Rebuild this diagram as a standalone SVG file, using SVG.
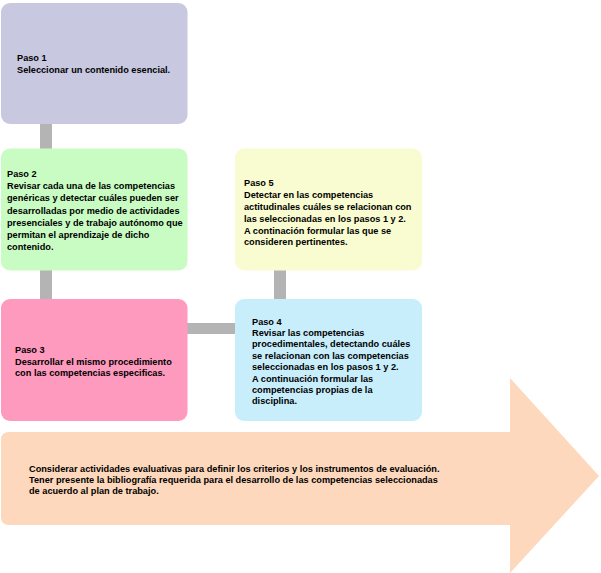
<svg xmlns="http://www.w3.org/2000/svg" width="601" height="573" viewBox="0 0 601 573">
<style>
text{font-family:"Liberation Sans",Arial,sans-serif;font-size:9.2px;font-weight:bold;fill:#000}
.c{fill:#b4b4b4}
</style>
<rect width="601" height="573" fill="#fff"/>
<g id="connectors">
<rect class="c" x="40" y="120" width="12" height="32"/>
<rect class="c" x="40" y="266" width="12" height="37"/>
<rect class="c" x="183" y="323" width="56" height="11"/>
<rect class="c" x="274" y="266" width="12" height="37"/>
</g>
<g id="arrow">
<path d="M9,432 H510 V378 L599,476 L510,573 V525 H9 Q1,525 1,517 V440 Q1,432 9,432 Z" fill="#fdd8bc"/>
<text x="29" y="472">Considerar actividades evaluativas para definir los criterios y los instrumentos de evaluación.</text>
<text x="29" y="483">Tener presente la bibliografía requerida para el desarrollo de las competencias seleccionadas</text>
<text x="29" y="494">de acuerdo al plan de trabajo.</text>
</g>
<g id="paso1">
<rect x="1" y="3" width="186.5" height="121" rx="9" fill="#c8c8e0"/>
<text x="17" y="61">Paso 1</text>
<text x="17" y="72.5">Seleccionar un contenido esencial.</text>
</g>
<g id="paso2">
<rect x="1" y="148.5" width="186.5" height="122" rx="9" fill="#c8fcc2"/>
<text x="7" y="177">Paso 2</text>
<text x="7" y="189">Revisar cada una de las competencias</text>
<text x="7" y="201">genéricas y detectar cuáles pueden ser</text>
<text x="7" y="213.5">desarrolladas por medio de actividades</text>
<text x="7" y="225.5">presenciales y de trabajo autónomo que</text>
<text x="7" y="237.5">permitan el aprendizaje de dicho</text>
<text x="7" y="249.5">contenido.</text>
</g>
<g id="paso5">
<rect x="235" y="148.5" width="187" height="122" rx="9" fill="#f8fcd0"/>
<text x="244" y="186">Paso 5</text>
<text x="244" y="197.5">Detectar en las competencias</text>
<text x="244" y="209.5">actitudinales cuáles se relacionan con</text>
<text x="244" y="221.5">las seleccionadas en los pasos 1 y 2.</text>
<text x="244" y="233.5">A continación formular las que se</text>
<text x="244" y="245">consideren pertinentes.</text>
</g>
<g id="paso3">
<rect x="1" y="299" width="186.5" height="122" rx="9" fill="#fe9abd"/>
<text x="15" y="353">Paso 3</text>
<text x="15" y="364.5">Desarrollar el mismo procedimiento</text>
<text x="15" y="376">con las competencias especificas.</text>
</g>
<g id="paso4">
<rect x="235" y="299" width="187" height="122" rx="9" fill="#c8eefc"/>
<text x="252" y="325">Paso 4</text>
<text x="252" y="336">Revisar las competencias</text>
<text x="252" y="347">procedimentales, detectando cuáles</text>
<text x="252" y="358.5">se relacionan con las competencias</text>
<text x="252" y="369.5">seleccionadas en los pasos 1 y 2.</text>
<text x="252" y="382">A continuación formular las</text>
<text x="252" y="393">competencias propias de la</text>
<text x="252" y="404">disciplina.</text>
</g>
</svg>
